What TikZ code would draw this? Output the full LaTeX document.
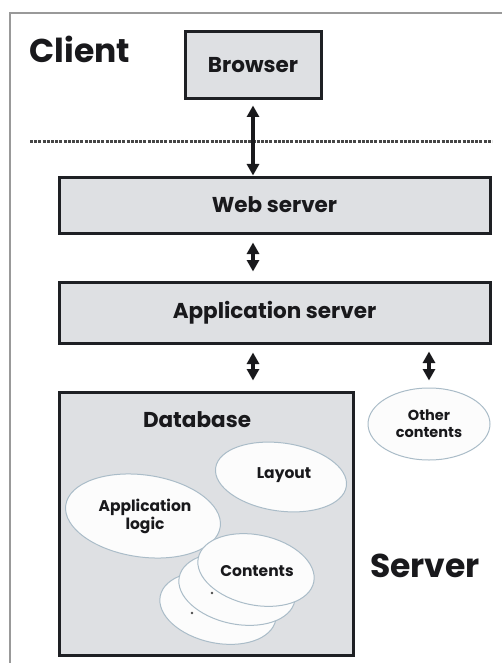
\documentclass[tikz,border=0pt]{standalone}
\usepackage{fontspec}
\setmainfont{Poppins}
\usetikzlibrary{arrows.meta,shapes.geometric}
\definecolor{boxfill}{RGB}{222,224,227}
\definecolor{boxline}{RGB}{30,32,36}
\definecolor{ellline}{RGB}{170,188,200}
\definecolor{ellfill}{RGB}{252,252,252}
\definecolor{txt}{RGB}{25,25,28}
\tikzset{
  layerbox/.style={draw=boxline, fill=boxfill, line width=3pt, inner sep=0pt, font=\bfseries\fontsize{21.5}{24}\selectfont, text=txt},
  bigtitle/.style={font=\bfseries\fontsize{33}{36}\selectfont, text=txt, inner sep=0pt},
  elltext/.style={font=\bfseries\fontsize{15.5}{18}\selectfont, text=txt, align=center, inner sep=0pt},
  ellshape/.style={draw=ellline, fill=ellfill, line width=1pt},
  dblarrow/.style={line width=3.4pt, draw=txt, {Triangle[width=12pt,length=11.5pt]}-{Triangle[width=12pt,length=11.5pt]}},
}
\begin{document}
\begin{tikzpicture}[x=1pt,y=-1pt]
\useasboundingbox (0,0) rectangle (502,663);
\fill[white] (0,0) rectangle (502,663);
% frame
\draw[gray!80, line width=1.2pt] (10,663) -- (10,13) -- (502,13);
% titles
\node[bigtitle] (client) at (80,49) {Client};
\node[bigtitle] (server) at (425,566) {Server};
% dashed separator
\draw[gray!55!black, line width=3pt, dash pattern=on 3pt off 1.2pt] (30,142) coordinate (dl) -- (492,142) coordinate (dr);
% boxes
\node[layerbox, minimum width=136pt, minimum height=67pt] (browser) at (253,65.5) {Browser};
\node[layerbox, minimum width=431pt, minimum height=56pt] (web) at (274.5,205) {Web server};
\node[layerbox, minimum width=431pt, minimum height=61pt] (app) at (274.5,312.5) {Application server};
\node[layerbox, minimum width=294pt, minimum height=263pt] (db) at (206,523.5) {};
\node[font=\bfseries\fontsize{21.5}{24}\selectfont, text=txt, inner sep=0pt] (dblabel) at (197,420) {Database};
% ellipses inside database
\filldraw[ellshape] (281,477) ellipse [x radius=66pt, y radius=34pt, rotate=-8];
\node[elltext] (layout) at (284,475) {Layout};
\filldraw[ellshape] (143,516) ellipse [x radius=78pt, y radius=41pt, rotate=-8];
\node[elltext, align=center] (applogic) at (145,516) {Application\\logic};
\filldraw[ellshape] (218,608) ellipse [x radius=59pt, y radius=35pt, rotate=-12];
\filldraw[ellshape] (237,589) ellipse [x radius=59pt, y radius=35pt, rotate=-12];
\filldraw[ellshape] (256,570) ellipse [x radius=59pt, y radius=35pt, rotate=-12];
\node[elltext] (contents) at (257,571) {Contents};
\fill[gray!60!black] (212,593) circle (1.4pt);
\fill[gray!60!black] (192,613) circle (1.4pt);
% other contents
\node[ellipse, ellshape, minimum width=122pt, minimum height=72pt, inner sep=0pt] (other) at (429,424) {};
\node[elltext, font=\bfseries\fontsize{14.5}{17}\selectfont] (otherlabel) at (429,424) {Other\\contents};
% arrows
\draw[dblarrow, shorten <=5pt] (browser.south) -- (browser.south |- web.north);
\draw[dblarrow, shorten <=8pt, shorten >=9pt] (browser.south |- web.south) -- (browser.south |- app.north);
\draw[dblarrow, shorten <=8pt, shorten >=10pt] (browser.south |- app.south) -- (browser.south |- db.north);
\draw[dblarrow, shorten <=7pt, shorten >=7pt] (other.north |- app.south) -- (other.north);
\end{tikzpicture}
\end{document}
